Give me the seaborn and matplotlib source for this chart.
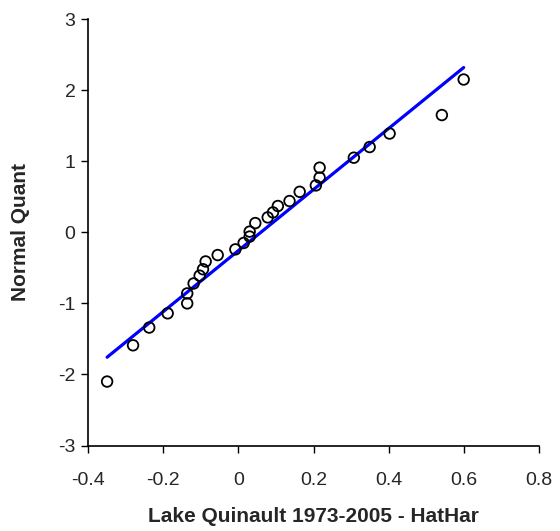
import numpy as np
import pandas as pd
import matplotlib
matplotlib.use("Agg")
import matplotlib.pyplot as plt
import seaborn as sns

# sorted residuals vs normal quantiles
hathar = [-0.349, -0.280, -0.237, -0.188, -0.136, -0.136, -0.119, -0.103,
          -0.094, -0.087, -0.055, -0.008, 0.014, 0.030, 0.030, 0.045,
          0.078, 0.092, 0.105, 0.136, 0.163, 0.206, 0.216, 0.216,
          0.307, 0.349, 0.402, 0.541, 0.599]
normal_q = [-2.10, -1.59, -1.34, -1.14, -1.00, -0.86, -0.72, -0.61,
            -0.52, -0.41, -0.32, -0.24, -0.15, -0.06, 0.01, 0.13,
            0.21, 0.28, 0.37, 0.44, 0.57, 0.66, 0.77, 0.91,
            1.05, 1.20, 1.39, 1.65, 2.15]

# reference line
fit_slope = 4.30
fit_intercept = -0.257

x_ticks = [-0.4, -0.2, 0, 0.2, 0.4, 0.6, 0.8]
x_ticklabels = ["-0.4", "-0.2", "0", "0.2", "0.4", "0.6", "0.8"]
y_ticks = [-3, -2, -1, 0, 1, 2, 3]

df = pd.DataFrame({"x": hathar, "q": normal_q})
line_x = np.array([df["x"].min(), df["x"].max()])
line_df = pd.DataFrame({"x": line_x, "q": fit_slope * line_x + fit_intercept})

sns.set_style("ticks")
plt.rcParams['font.family'] = ['Liberation Sans', 'DejaVu Sans']
plt.rcParams['axes.unicode_minus'] = False

fig = plt.figure(figsize=(5.6, 5.31), dpi=100)
ax = fig.add_axes([0.157, 0.161, 0.806, 0.803])

sns.lineplot(data=line_df, x="x", y="q", color="#0000ff", linewidth=2.3, ax=ax)
sns.scatterplot(data=df, x="x", y="q", s=58, facecolors="none",
                edgecolor="black", linewidth=1.3, ax=ax, zorder=3)

ax.set_xlim(-0.4, 0.8)
ax.set_ylim(-3, 3)
ax.set_xticks(x_ticks)
ax.set_xticklabels(x_ticklabels)
ax.set_yticks(y_ticks)
ax.tick_params(axis="both", labelsize=14, length=5, width=1, color="black",
               direction="out")
ax.tick_params(axis="x", pad=14)
ax.tick_params(axis="y", pad=4)

for s in ["top", "right"]:
    ax.spines[s].set_visible(False)
for s in ["left", "bottom"]:
    ax.spines[s].set_color("black")
    ax.spines[s].set_linewidth(1.2)

ax.set_xlabel("Lake Quinault 1973-2005 - HatHar", fontsize=15, fontweight="bold",
              labelpad=13)
ax.set_ylabel("Normal Quant", fontsize=15, fontweight="bold", labelpad=20)

plt.savefig("out.png", dpi=100)
